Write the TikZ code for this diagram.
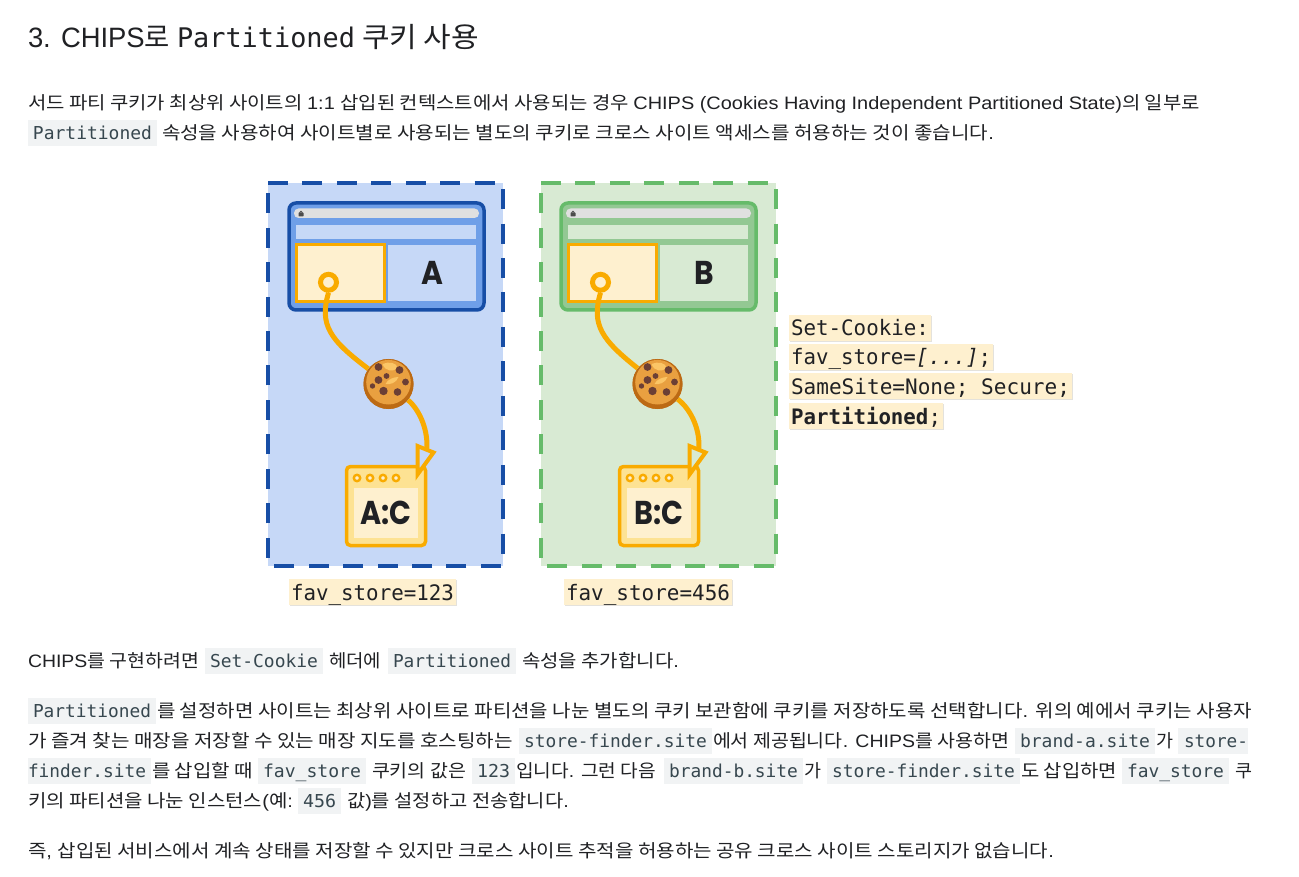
\documentclass[tikz,border=0pt]{standalone}
\usepackage{graphicx}
\usepackage{fontspec}
\setmainfont{Liberation Sans}
\newfontfamily\krf{Noto Sans CJK KR}
\newfontfamily\laf{Liberation Sans}
\newfontfamily\codef{DejaVu Sans Mono}
\newfontfamily\geof{Poppins}
\XeTeXinterchartokenstate=0
\newXeTeXintercharclass\hangulclass
\makeatletter
\count@="AC00
\loop\ifnum\count@<"D7A4
  \XeTeXcharclass\count@=\hangulclass
  \advance\count@ by 1
\repeat
\makeatother
\XeTeXinterchartoks 0 \hangulclass={\krf}
\XeTeXinterchartoks \hangulclass 0={\laf}
\XeTeXinterchartoks 4095 \hangulclass={\krf}
\XeTeXinterchartoks 4095 0={\laf}
\newsavebox\fitbox
\newcommand\fitw[2]{\sbox\fitbox{#2}\pgfmathsetmacro\fitr{(#1)/(\wd\fitbox/1pt)}\scalebox{\fitr}[1]{\usebox\fitbox}}
\newcommand\us{\char"5F\relax}
\definecolor{ink}{HTML}{202124}
\definecolor{codeink}{HTML}{37474F}
\definecolor{codebg}{HTML}{F1F3F4}
\definecolor{hl}{HTML}{FEF0CF}
\definecolor{hlshade}{HTML}{E4E2DC}
\definecolor{amber}{HTML}{F9AB00}
\definecolor{amberl}{HTML}{FDE293}
\definecolor{bluedk}{HTML}{174EA6}
\definecolor{bluemd}{HTML}{6F9FE8}
\definecolor{bluelt}{HTML}{C6D8F7}
\definecolor{greendk}{HTML}{66BB6A}
\definecolor{greenmd}{HTML}{93C893}
\definecolor{greenlt}{HTML}{D8EAD3}
\definecolor{ckrim}{HTML}{BC6A14}
\definecolor{ckbase}{HTML}{E9A040}
\definecolor{cklight}{HTML}{FBC566}
\definecolor{ckchip}{HTML}{6B3F35}
\tikzset{
  txt/.style={inner sep=0pt,outer sep=0pt,anchor=base west,text=ink},
  bigl/.style={inner sep=0pt,anchor=center,text=ink,font=\geof\bfseries\fontsize{33}{34}\selectfont},
  link/.style={amber,line width=5pt},
  headtip/.style={amber,line width=4pt,line join=miter}
}
% name, x, baseline, width, text
\newcommand\body[5]{\node[txt] (#1) at (#2,#3) {\fontsize{18}{22}\selectfont\XeTeXinterchartokenstate=1 \laf\fitw{#4}{\XeTeXinterchartokenstate=1 #5}};}
% name, x1, x2, baseline, text  (code chip with grey ground)
\newcommand\code[5]{\fill[codebg] (#2,#4-19.5) rectangle (#3,#4+6.5);
  \node[txt,text=codeink] (#1) at (#2+5,#4) {\fontsize{17.8}{22}\selectfont\codef\fitw{#3-#2-10}{#5}};}
% name, ground x1, ground x2, text x, text width, baseline, text
\newcommand\codex[7]{\fill[codebg] (#2,#6-19.5) rectangle (#3,#6+6.5);
  \node[txt,text=codeink] (#1) at (#4,#6) {\fontsize{17.8}{22}\selectfont\codef\fitw{#5}{#7}};}
% name, x1, x2, baseline, text (yellow label)
\newcommand\hlabel[5]{\fill[hlshade] (#2+1,#4-20) rectangle (#3+1,#4+6);
  \fill[hl] (#2,#4-21) rectangle (#3,#4+5);
  \node[txt] (#1) at (#2+2,#4) {\fontsize{21.3}{24}\selectfont\codef\fitw{#3-#2-4}{#5}};}
% cookie
\newcommand\cookie[3]{%
  \node[circle,minimum size=50pt,inner sep=0pt,fill=ckrim] (#1) at (#2,#3) {};
  \begin{scope}[shift={(#2,#3)}]
    \fill[ckbase] (0,-1.8) circle[radius=22.3pt];
    \fill[cklight] (-6,-20) .. controls (0,-23) and (9,-21) .. (9,-16) .. controls (5,-12) and (-3,-12) .. (-6,-20);
    \fill[cklight] (10,-7) .. controls (6,-7) and (-1,-5) .. (-3,0) .. controls (1,1) and (8,-1) .. (10,-7);
    \foreach \cx/\cy/\crad in {-10/-17/3.9,11/-14/3.9,-10/-4/3.9,-2/-8/2.9,17/-2/3.4,-16/2/2.7,-5/7/4.2,9/8/3.8}
      \fill[ckchip] (\cx,\cy) circle[radius=\crad pt];
  \end{scope}}
% prefix, letter, small label, dash colour, ground, window stroke, window fill, dx of window
\newcommand\panel[8]{%
  \fill[#5] (268,183) rectangle (503,566);
  \draw[#4,line width=4.7pt,dash pattern=on 20pt off 14.45pt] (268,183) -- (503,183) -- (503,566) -- (268,566) -- cycle;
  \begin{scope}[xshift=#8pt]
    \draw[#6,fill=#7,line width=3.5pt,rounded corners=7pt] (289,203) rectangle (484,310);
    \fill[black!12,rounded corners=4.5pt] (294,208.5) rectangle (479,218);
    \fill[black!70,rounded corners=.6pt] (298.5,212.5) rectangle (303.5,216.5);
    \draw[black!70,line width=.8pt] (299.6,212.5) arc[start angle=180,end angle=0,radius=1.4pt];
    \fill[#5] (296,225) rectangle (476,239);
    \fill[#5] (388,245) rectangle (476,301);
    \draw[amber,fill=hl,line width=3pt] (296,244.5) rectangle (384,301.5);
    \node[bigl] (#1letter) at (432,273) {\scalebox{.9}[1]{#2}};
    \node[circle,draw=amber,fill=hl,line width=5pt,minimum size=16pt,inner sep=0pt] (#1ring) at (328.5,282.3) {};
  \end{scope}
  \draw[amber,rounded corners=4pt,fill=amberl,line width=3.5pt] (346.5,466.5) rectangle (425.5,545.5);
  \fill[hl] (354,488) rectangle (418,538);
  \foreach \dx in {357,370,383,396}
    \draw[amber,fill=hl,line width=2.4pt] (\dx,478) circle[radius=3.2pt];
  \node[bigl] (#1small) at (386,513) {\scalebox{.87}[1]{#3}};
}
\begin{document}
\begin{tikzpicture}[x=1pt,y=-1pt]
\useasboundingbox (0,0) rectangle (1299,877);
\fill[white] (0,0) rectangle (1299,877);

% heading
\node[txt] (h1) at (28,48) {\fontsize{28}{32}\selectfont\XeTeXinterchartokenstate=1 \laf\fitw{142}{\XeTeXinterchartokenstate=1 3. CHIPS로}};
\node[txt] (h2) at (177,48) {\fontsize{27}{32}\selectfont\codef\fitw{178}{Partitioned}};
\node[txt] (h3) at (362,48) {\fontsize{28}{32}\selectfont\krf\fitw{117}{쿠키 사용}};

% intro
\body{l1}{28}{110}{1172}{서드 파티 쿠키가 최상위 사이트의 1:1 삽입된 컨텍스트에서 사용되는 경우 CHIPS (Cookies Having Independent Partitioned State)의 일부로}
\code{c2}{28}{157}{140}{Partitioned}
\body{l2}{162}{140}{832}{속성을 사용하여 사이트별로 사용되는 별도의 쿠키로 크로스 사이트 액세스를 허용하는 것이 좋습니다.}

% panels
\panel{a}{A}{A:C}{bluedk}{bluelt}{bluedk}{bluemd}{0}
\begin{scope}[shift={(273,0)}]
\panel{b}{B}{B:C}{greendk}{greenlt}{greendk}{greenmd}{-1}
\end{scope}

% connectors
\cookie{acookie}{388.5}{384}
\cookie{bcookie}{657.5}{384}
\coordinate (aend) at (426.5,451);
\coordinate (bend) at (698.5,451);
\draw[link] (aring.south) .. controls (319,325) and (330,340) .. (acookie);
\draw[link] (acookie) .. controls (420,410) and (429,432) .. (aend);
\draw[headtip,fill=bluelt] (417.5,446) -- (433.5,452.5) -- (417.5,474.5) -- cycle;
\draw[link] (bring.south) .. controls (591,325) and (602,340) .. (bcookie);
\draw[link] (bcookie) .. controls (692,410) and (701,432) .. (bend);
\draw[headtip,fill=greenlt] (689.5,446) -- (705.5,452.5) -- (689.5,474.5) -- cycle;
\cookie{acookiet}{388.5}{384}
\cookie{bcookiet}{657.5}{384}

% yellow labels
\hlabel{f1}{289}{456}{600}{fav\us store=123}
\hlabel{f2}{564}{732}{600}{fav\us store=456}
\hlabel{s1}{789}{931}{336}{Set-Cookie:}
\hlabel{s2}{789}{993}{365}{fav\us store=\textit{[...]};}
\hlabel{s3}{789}{1072}{394}{SameSite=None; Secure;}
\hlabel{s4}{789}{943}{424}{\textbf{Partitioned};}

% paragraph 1
\body{p1}{28}{667}{171}{CHIPS를 구현하려면}
\code{p1a}{205}{323}{667}{Set-Cookie}
\body{p1b}{329}{667}{52}{헤더에}
\code{p1c}{388}{516}{667}{Partitioned}
\body{p1d}{522}{667}{157}{속성을 추가합니다.}

% paragraph 2
\code{q1a}{28}{156}{717}{Partitioned}
\body{q1b}{157}{717}{1095}{를 설정하면 사이트는 최상위 사이트로 파티션을 나눈 별도의 쿠키 보관함에 쿠키를 저장하도록 선택합니다. 위의 예에서 쿠키는 사용자}
\body{q2a}{28}{747}{485}{가 즐겨 찾는 매장을 저장할 수 있는 매장 지도를 호스팅하는}
\code{q2b}{519}{712}{747}{store-finder.site}
\body{q2c}{713}{747}{296}{에서 제공됩니다. CHIPS를 사용하면}
\code{q2d}{1015}{1155}{747}{brand-a.site}
\body{q2e}{1156}{747}{17}{가}
\codex{q2f}{1178}{1248}{1184}{64}{747}{store-}
\codex{q3a}{28}{151}{28}{118}{777}{finder.site}
\body{q3b}{152}{777}{101}{를 삽입할 때}
\code{q3c}{258}{366}{777}{fav\us store}
\body{q3d}{372}{777}{94}{쿠키의 값은}
\code{q3e}{472}{515}{777}{123}
\body{q3f}{516}{777}{140}{입니다. 그런 다음}
\code{q3g}{664}{803}{777}{brand-b.site}
\body{q3h}{804}{777}{17}{가}
\code{q3i}{827}{1020}{777}{store-finder.site}
\body{q3j}{1021}{777}{96}{도 삽입하면}
\code{q3k}{1122}{1229}{777}{fav\us store}
\body{q3l}{1235}{777}{17}{쿠}
\body{q4a}{28}{807}{265}{키의 파티션을 나눈 인스턴스(예:}
\code{q4b}{298}{341}{807}{456}
\body{q4c}{347}{807}{222}{값)를 설정하고 전송합니다.}

% paragraph 3
\body{r1}{28}{857}{1026}{즉, 삽입된 서비스에서 계속 상태를 저장할 수 있지만 크로스 사이트 추적을 허용하는 공유 크로스 사이트 스토리지가 없습니다.}
\end{tikzpicture}
\end{document}
